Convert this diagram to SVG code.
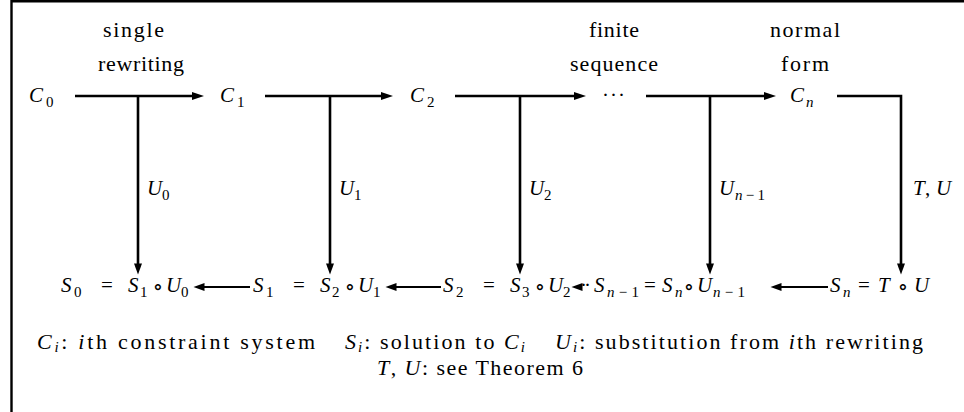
<svg xmlns="http://www.w3.org/2000/svg" width="964" height="412" viewBox="0 0 964 412">
<style>
text{font-family:"Liberation Serif","DejaVu Serif",serif;font-size:21px;fill:#000}
.i{font-style:italic}
.s{font-size:15px}
.op{text-anchor:middle;font-family:"DejaVu Serif","Liberation Serif",serif;font-size:22px}
.w{font-size:22px}
.lg{font-size:22px}
.c{fill:none;stroke:#000;stroke-width:2.6;stroke-linejoin:miter}
.b{fill:none;stroke:#000;stroke-width:2}
.f{fill:none;stroke:#000;stroke-width:2.4}
</style>
<defs>
<marker id="ah" markerUnits="userSpaceOnUse" markerWidth="12" markerHeight="8" refX="6" refY="4" orient="auto" overflow="visible"><path d="M0,0 L12,4 L0,8 z" fill="#000"/></marker>
<marker id="ah2" markerUnits="userSpaceOnUse" markerWidth="11" markerHeight="8" refX="5.5" refY="4" orient="auto" overflow="visible"><path d="M0,0 L11,4 L0,8 z" fill="#000"/></marker>
</defs>
<rect width="964" height="412" fill="#fff"/>
<path class="f" d="M11.5,412 V1.2 H964"/>

<g id="connectors">
<path class="c" d="M75,96 H198" marker-end="url(#ah)"/>
<path class="c" d="M265,96 H387" marker-end="url(#ah)"/>
<path class="c" d="M455,96 H580" marker-end="url(#ah)"/>
<path class="c" d="M646,96 H770" marker-end="url(#ah)"/>
<path class="c" d="M837,96 H901 V269" marker-end="url(#ah2)"/>
<path class="c" d="M138,96 V269" marker-end="url(#ah2)"/>
<path class="c" d="M330,96 V269" marker-end="url(#ah2)"/>
<path class="c" d="M520,96 V269" marker-end="url(#ah2)"/>
<path class="c" d="M710,96 V269" marker-end="url(#ah2)"/>
<path class="b" d="M250,287 H199" marker-end="url(#ah2)"/>
<path class="b" d="M441,287 H391" marker-end="url(#ah2)"/>
<path class="b" d="M580,287 H577" marker-end="url(#ah2)"/>
<path class="b" d="M828,287 H776" marker-end="url(#ah2)"/>
<text x="580" y="292" textLength="11" lengthAdjust="spacing">··</text>
</g>

<g id="label-single">
<text class="w" x="103" y="37" textLength="61" lengthAdjust="spacing">single</text>
<text class="w" x="98" y="71" textLength="86" lengthAdjust="spacing">rewriting</text>
</g>
<g id="label-finite">
<text class="w" x="589" y="37" textLength="50" lengthAdjust="spacing">finite</text>
<text class="w" x="570" y="71" textLength="88" lengthAdjust="spacing">sequence</text>
</g>
<g id="label-normal">
<text class="w" x="770" y="37" textLength="70" lengthAdjust="spacing">normal</text>
<text class="w" x="781" y="71" textLength="48" lengthAdjust="spacing">form</text>
</g>

<g id="C0"><text y="102"><tspan x="29" class="i">C</tspan><tspan x="46" dy="5" class="s">0</tspan></text></g>
<g id="C1"><text y="102"><tspan x="220" class="i">C</tspan><tspan x="237" dy="5" class="s">1</tspan></text></g>
<g id="C2"><text y="102"><tspan x="410" class="i">C</tspan><tspan x="427" dy="5" class="s">2</tspan></text></g>
<g id="Cdots"><text x="602" y="102" textLength="23" lengthAdjust="spacing">···</text></g>
<g id="Cn"><text y="102"><tspan x="790" class="i">C</tspan><tspan x="806" dy="5" class="s i">n</tspan></text></g>

<g id="U-labels">
<text y="195"><tspan x="147" class="i">U</tspan><tspan x="162" dy="5" class="s">0</tspan></text>
<text y="195"><tspan x="339" class="i">U</tspan><tspan x="354" dy="5" class="s">1</tspan></text>
<text y="195"><tspan x="529" class="i">U</tspan><tspan x="544" dy="5" class="s">2</tspan></text>
<text y="195"><tspan x="719" class="i">U</tspan><tspan x="735" dy="5" class="s" textLength="30" lengthAdjust="spacing"><tspan class="i">n</tspan>−1</tspan></text>
<text y="195"><tspan x="913" class="i">T</tspan><tspan x="925">,</tspan><tspan x="936" class="i">U</tspan></text>
</g>

<g id="S0">
<text y="292"><tspan x="61" class="i">S</tspan><tspan x="74" dy="5" class="s">0</tspan><tspan x="101" dy="-5">=</tspan><tspan x="128" class="i">S</tspan><tspan x="140" dy="5" class="s">1</tspan><tspan x="166" dy="-5" class="i">U</tspan><tspan x="181" dy="5" class="s">0</tspan></text>
<text class="op" x="158" y="294">∘</text>
</g>
<g id="S1">
<text y="292"><tspan x="253" class="i">S</tspan><tspan x="266" dy="5" class="s">1</tspan><tspan x="293" dy="-5">=</tspan><tspan x="320" class="i">S</tspan><tspan x="332" dy="5" class="s">2</tspan><tspan x="358" dy="-5" class="i">U</tspan><tspan x="373" dy="5" class="s">1</tspan></text>
<text class="op" x="350" y="294">∘</text>
</g>
<g id="S2">
<text y="292"><tspan x="443" class="i">S</tspan><tspan x="456" dy="5" class="s">2</tspan><tspan x="483" dy="-5">=</tspan><tspan x="510" class="i">S</tspan><tspan x="522" dy="5" class="s">3</tspan><tspan x="548" dy="-5" class="i">U</tspan><tspan x="563" dy="5" class="s">2</tspan></text>
<text class="op" x="540" y="294">∘</text>
</g>
<g id="Sn-1">
<text y="292"><tspan x="594" class="i">S</tspan><tspan x="607" dy="5" class="s" textLength="32" lengthAdjust="spacing"><tspan class="i">n</tspan>−1</tspan><tspan x="644" dy="-5">=</tspan><tspan x="662" class="i">S</tspan><tspan x="675" dy="5" class="s i">n</tspan><tspan x="697" dy="-5" class="i">U</tspan><tspan x="713" dy="5" class="s" textLength="32" lengthAdjust="spacing"><tspan class="i">n</tspan>−1</tspan></text>
<text class="op" x="689" y="294">∘</text>
</g>
<g id="Sn">
<text y="292"><tspan x="830" class="i">S</tspan><tspan x="843" dy="5" class="s i">n</tspan><tspan x="858" dy="-5">=</tspan><tspan x="878" class="i">T</tspan><tspan x="914" class="i">U</tspan></text>
<text class="op" x="903" y="294">∘</text>
</g>

<g id="legend">
<text class="lg" x="37" y="349" textLength="278" lengthAdjust="spacing"><tspan class="i">C</tspan><tspan class="i s" dy="3">i</tspan><tspan dy="-3">: </tspan><tspan class="i">i</tspan>th constraint system</text>
<text class="lg" x="345" y="349" textLength="180" lengthAdjust="spacing"><tspan class="i">S</tspan><tspan class="i s" dy="3">i</tspan><tspan dy="-3">: solution to </tspan><tspan class="i">C</tspan><tspan class="i s" dy="3">i</tspan></text>
<text class="lg" x="555" y="349" textLength="368" lengthAdjust="spacing"><tspan class="i">U</tspan><tspan class="i s" dy="3">i</tspan><tspan dy="-3">: substitution from </tspan><tspan class="i">i</tspan>th rewriting</text>
<text class="lg" x="377" y="375" textLength="206" lengthAdjust="spacing"><tspan class="i">T</tspan>, <tspan class="i">U</tspan>: see Theorem 6</text>
</g>
</svg>
